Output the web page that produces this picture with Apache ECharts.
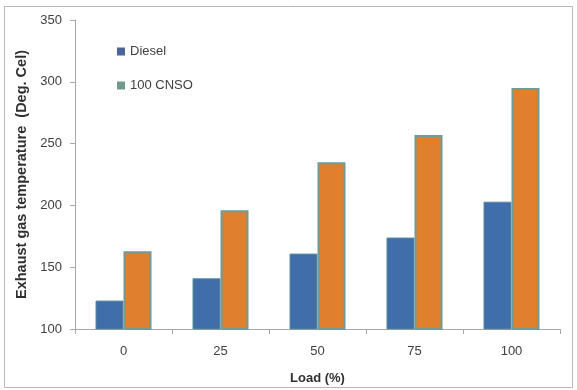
<!DOCTYPE html>
<html>
<head>
<meta charset="utf-8">
<script src="https://cdn.jsdelivr.net/npm/echarts@6/dist/echarts.min.js"></script>
<style>
  html, body { margin: 0; padding: 0; background: #fff; }
  #chart { width: 577px; height: 390px; }
</style>
</head>
<body>
<div id="chart"></div>
<script>
// Exhaust gas temperature vs. engine load
const loads = ['0', '25', '50', '75', '100'];
const diesel = [123, 141, 161, 174, 203];
const cnso = [163, 196, 235, 257, 295];
const yTicks = { min: 100, max: 350, interval: 50 };

const font = 'Liberation Sans, Arial, sans-serif';
const chart = echarts.init(document.getElementById('chart'));

chart.setOption({
  backgroundColor: '#ffffff',
  animation: false,
  graphic: [{
    type: 'rect',
    shape: { x: 4.5, y: 6.5, width: 568, height: 381 },
    style: { fill: 'none', stroke: '#b8b8b8', lineWidth: 1 },
    silent: true
  }],
  grid: { left: 75, top: 20, right: 17, bottom: 60, containLabel: false },
  legend: {
    orient: 'vertical',
    left: 112,
    top: 40,
    itemGap: 21,
    itemWidth: 8,
    itemHeight: 8,
    itemTextGap: 3,
    icon: 'rect',
    textStyle: { fontFamily: font, fontSize: 13, color: '#404040' },
    data: [
      { name: 'Diesel', itemStyle: { color: '#4a6498', borderWidth: 0 } },
      { name: '100 CNSO', itemStyle: { color: '#6f9a8c', borderWidth: 0 } }
    ]
  },
  xAxis: {
    type: 'category',
    data: loads,
    name: 'Load (%)',
    nameLocation: 'middle',
    nameGap: 43,
    nameTextStyle: { fontFamily: font, fontSize: 13, fontWeight: 'bold', color: '#303030' },
    axisLine: { lineStyle: { color: '#a8a8a8', width: 1 } },
    axisTick: { show: true, alignWithLabel: false, length: 5, lineStyle: { color: '#a8a8a8' } },
    axisLabel: { fontFamily: font, fontSize: 13, color: '#404040', margin: 16 }
  },
  yAxis: {
    type: 'value',
    min: yTicks.min,
    max: yTicks.max,
    interval: yTicks.interval,
    name: 'Exhaust gas temperature  (Deg. Cel)',
    nameLocation: 'middle',
    nameGap: 45,
    nameTextStyle: { fontFamily: font, fontSize: 14.5, fontWeight: 'bold', color: '#303030', padding: [0, 0, 0, 0] },
    axisLine: { show: true, lineStyle: { color: '#a8a8a8', width: 1 } },
    axisTick: { show: true, length: 5, lineStyle: { color: '#a8a8a8' } },
    axisLabel: { fontFamily: font, fontSize: 13, color: '#404040', margin: 13 },
    splitLine: { show: false }
  },
  series: [
    {
      name: 'Diesel',
      type: 'bar',
      data: diesel,
      barWidth: 28,
      barGap: '0%',
      itemStyle: { color: '#3f6eaa', borderColor: '#5a8a9a', borderWidth: 1 }
    },
    {
      name: '100 CNSO',
      type: 'bar',
      data: cnso,
      barWidth: 28,
      barGap: '0%',
      itemStyle: { color: '#e0802f', borderColor: '#6f9a96', borderWidth: 2 }
    }
  ]
});
</script>
</body>
</html>
